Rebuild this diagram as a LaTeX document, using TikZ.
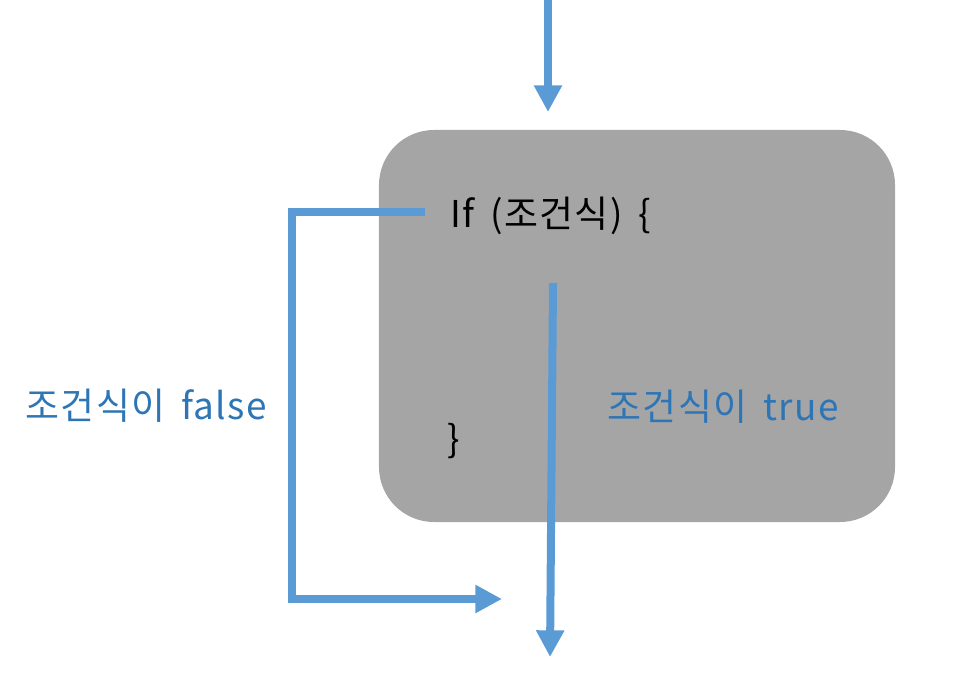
\documentclass[tikz,border=0pt]{standalone}
\usepackage{fontspec}
\newfontfamily\korfont[LetterSpace=4,WordSpace=1.6]{Noto Sans CJK KR}
\usetikzlibrary{arrows.meta,positioning}
\definecolor{box_gray}{HTML}{A5A5A5}
\definecolor{flow_blue}{HTML}{5B9BD5}
\definecolor{label_blue}{HTML}{2E75B6}
\tikzset{
if_block/.style={rectangle, rounded corners=1.65cm, fill=box_gray, minimum width=15.48cm, minimum height=11.76cm, anchor=center},
flow/.style={draw=flow_blue, line width=0.24cm, -{Triangle[length=0.8cm,width=0.8cm]}},
code_text/.style={font=\korfont\fontsize{31.5}{36}\selectfont, text=black, inner sep=0, anchor=base west},
cond_label/.style={font=\korfont\fontsize{31.5}{36}\selectfont, text=label_blue, inner sep=0, anchor=base west}
}

\begin{document}
\begin{tikzpicture}[x=0.03cm, y=-0.03cm]
    \useasboundingbox (0,0) rectangle (963,684);
    \node[if_block] (block) at (637,326) {};
    \node[code_text] (if_line) at (450,228) {If (조건식) \{};
    \node[code_text] (close_brace) at (447,452) {\}};
    \node[cond_label] (false_label) at (25,419) {조건식이 false};
    \node[cond_label] (true_label) at (607,420) {조건식이 true};
    % connector ends
    \coordinate (top_in) at (548,0);
    \coordinate (top_out) at (548,112);
    \coordinate (true_in) at (553,283);
    \coordinate (true_out) at (550,657);
    \coordinate (false_in) at (425,212);
    \coordinate (false_turn) at (292,212);
    \coordinate (false_out) at (502,599);
    \draw[flow] (top_in) -- (top_out);
    \draw[flow] (true_in) -- (true_out);
    \draw[flow] (false_in) -- (false_turn) -- (false_turn |- false_out) -- (false_out);
\end{tikzpicture}
\end{document}
